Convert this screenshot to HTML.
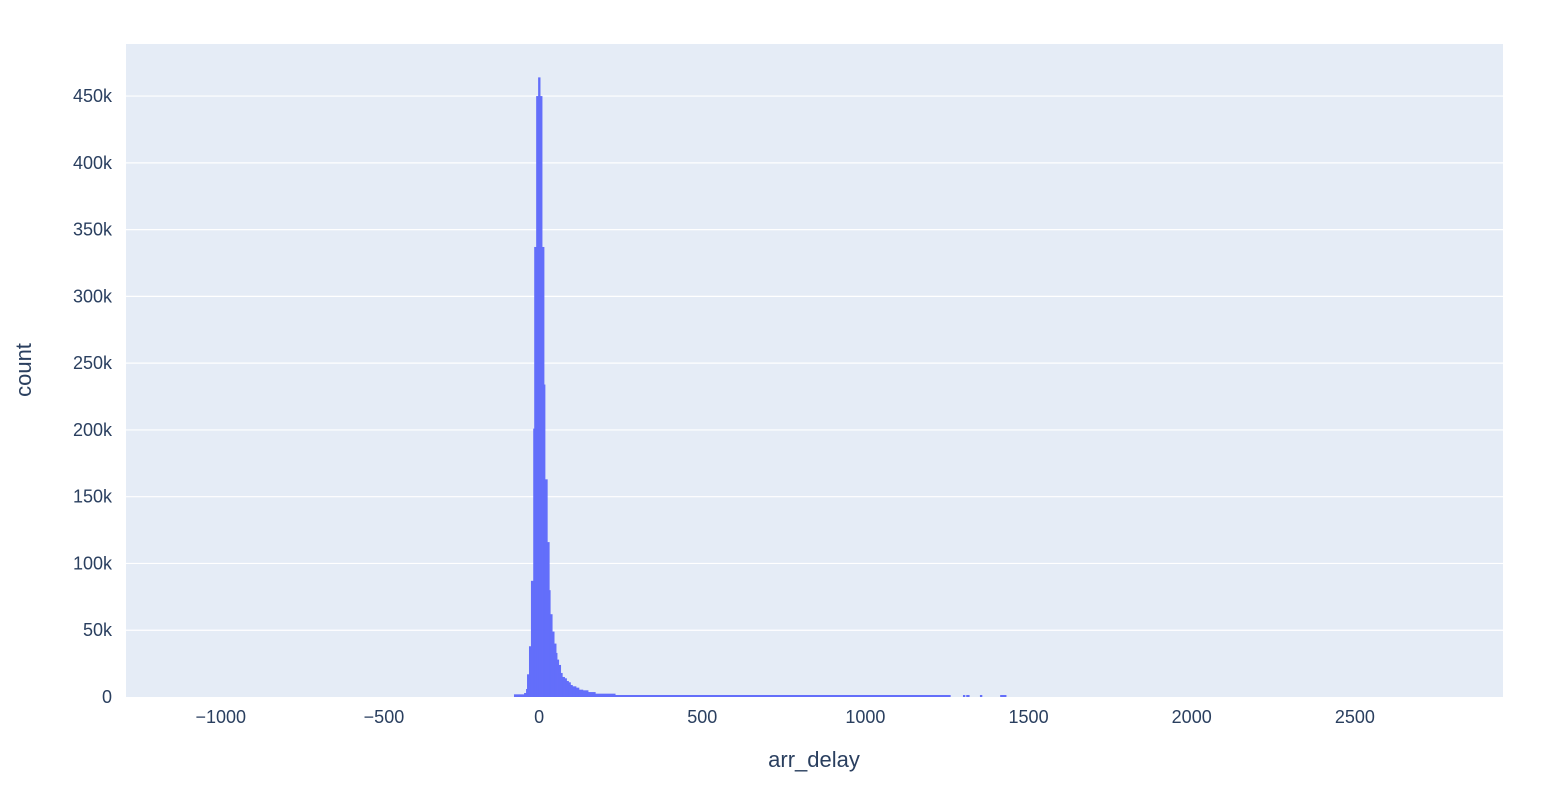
<!DOCTYPE html>
<html><head><meta charset="utf-8"><style>
html,body{margin:0;padding:0;background:#fff;}
svg text{font-family:"Liberation Sans",sans-serif;fill:#2a3f5f;}
</style></head><body>
<svg id="chart" width="1550" height="788" xmlns="http://www.w3.org/2000/svg">
<rect x="126" y="44" width="1377" height="653" fill="#e5ecf6"/>
<g id="grid"></g><g id="bars"></g><g id="xticks"></g><g id="yticks"></g>
<text x="814" y="767" font-size="22" text-anchor="middle">arr_delay</text>
<text x="0" y="0" font-size="22" text-anchor="middle" transform="translate(31,370) rotate(-90)">count</text>
</svg>
<script>
const binEdges = [-77,-46,-40,-37,-31,-25,-18,-15,-9,-3,3,9,15,18,25,31,34,40,46,52,55,60,66,71,78,84,90,96,102,113,122,134,150,172,233,1260];
const binCounts = [2000,3000,6000,17000,38000,87000,201000,337000,450000,464000,450000,337000,234000,163000,116000,80000,62000,49000,40000,33000,28000,24000,18000,15000,14000,12000,11000,9000,8000,7000,5500,5000,3700,2500,1500];
const extraStarts = [1299,1309,1351,1413];
const extraEnds = [1305,1318,1357,1431];
const extraCounts = [1500,1500,1500,1500];
const xTicks = [-1000,-500,0,500,1000,1500,2000,2500];
const xTickLabels = ["\u22121000","\u2212500","0","500","1000","1500","2000","2500"];
const yTicks = [0,50000,100000,150000,200000,250000,300000,350000,400000,450000];
const yTickLabels = ["0","50k","100k","150k","200k","250k","300k","350k","400k","450k"];

const X0=126,X1=1503,Y0=697,Y1=44;
const xMin=-1266,xMax=2954,yMax=489000;
const xs=v=>X0+(v-xMin)/(xMax-xMin)*(X1-X0);
const ys=v=>Y0-v/yMax*(Y0-Y1);
const NS="http://www.w3.org/2000/svg";
function mk(tag,attrs,parent){const e=document.createElementNS(NS,tag);for(const k in attrs)e.setAttribute(k,attrs[k]);document.getElementById(parent).appendChild(e);return e;}

yTicks.forEach((t,i)=>{
  if(t>0){const l=mk('line',{x1:X0,x2:X1,y1:ys(t),y2:ys(t),stroke:'#fff','stroke-width':1.2},'grid');
  
  }
  const tx=mk('text',{x:112,y:ys(t)+6,'font-size':18,'text-anchor':'end'},'yticks');
  tx.textContent=yTickLabels[i];
  
  
});
xTicks.forEach((t,i)=>{
  const off = t<0 ? 8 : 0;
  const tx=mk('text',{x:xs(t)+off,y:723,'font-size':18,'text-anchor':'middle'},'xticks');
  tx.textContent=xTickLabels[i];
  
  
});
function bar(a,b,c){
  const x=xs(a),w=xs(b)-xs(a),y=ys(c);
  const r=mk('rect',{x:x,y:y,width:Math.max(w,0.5)+0.4,height:Y0-y,fill:'#636efa'},'bars');
  
  
}
binCounts.forEach((c,i)=>bar(binEdges[i],binEdges[i+1],c));
extraCounts.forEach((c,i)=>bar(extraStarts[i],extraEnds[i],c));
</script>
</body></html>
